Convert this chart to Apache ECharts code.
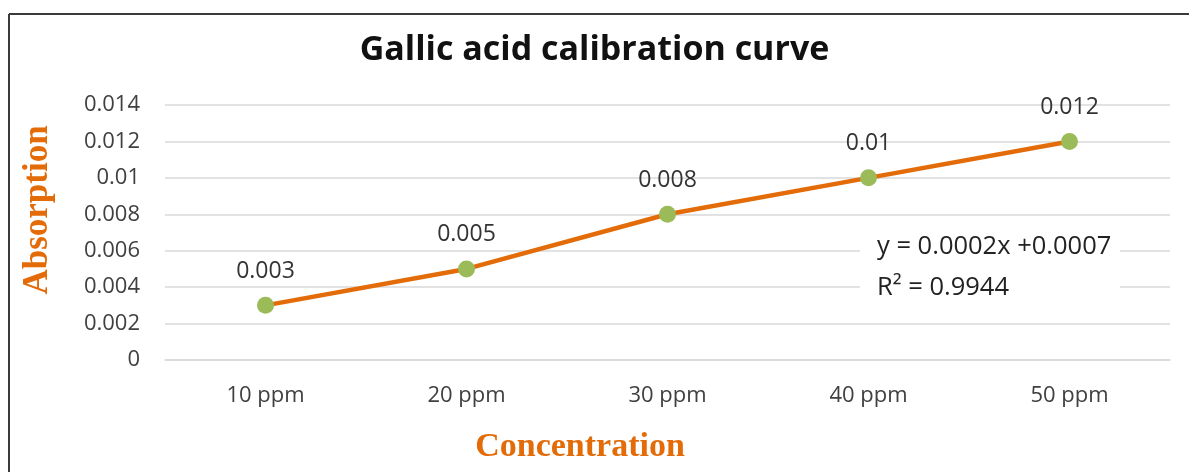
<!DOCTYPE html>
<html><head><meta charset="utf-8">
<script src="https://cdn.jsdelivr.net/npm/echarts@6/dist/echarts.min.js"></script>
<style>html,body{margin:0;padding:0;background:#fff}#c{width:1189px;height:472px}</style>
</head><body><div id="c"></div>
<script>
const categories = ['10 ppm', '20 ppm', '30 ppm', '40 ppm', '50 ppm'];
const absorption = [0.003, 0.005, 0.008, 0.01, 0.012];
const yTicks = { min: 0, max: 0.014, interval: 0.002 };
const titleText = 'Gallic acid calibration curve';
const xName = 'Concentration';
const yName = 'Absorption';
const equationLines = ['y = 0.0002x +0.0007', 'R² = 0.9944'];

const orange = '#E36C09';
const chart = echarts.init(document.getElementById('c'), null, { renderer: 'canvas' });
chart.setOption({
  animation: false,
  backgroundColor: '#fff',
  title: {
    text: titleText, left: 'center', top: 28,
    textStyle: { fontFamily: 'Open Sans', fontWeight: 'bold', fontSize: 34, color: '#111' }
  },
  grid: { left: 165, right: 19, top: 105, bottom: 112 },
  graphic: [
    { type: 'line', shape: { x1: 9, y1: 14, x2: 1189, y2: 14 }, style: { stroke: '#3a3a3a', lineWidth: 2 } },
    { type: 'line', shape: { x1: 9, y1: 14, x2: 9, y2: 472 }, style: { stroke: '#3a3a3a', lineWidth: 2 } },
    { type: 'rect', shape: { x: 860, y: 226, width: 260, height: 76 }, style: { fill: '#fff' }, z: 10 },
    { type: 'text', x: 877, y: 247, z: 11,
      style: { text: equationLines[0], fontFamily: 'Open Sans', fontSize: 25.5, verticalAlign: 'middle', fill: '#222' } },
    { type: 'text', x: 877, y: 288, z: 11,
      style: { text: equationLines[1], fontFamily: 'Open Sans', fontSize: 25.5, verticalAlign: 'middle', fill: '#222' } },
    { type: 'text', x: 38, y: 210, rotation: Math.PI / 2, z: 11,
      style: { text: yName, fontFamily: 'Liberation Serif', fontWeight: 'bold', fontSize: 35,
        align: 'center', verticalAlign: 'middle', fill: orange } },
    { type: 'text', x: 580, y: 447, z: 11,
      style: { text: xName, fontFamily: 'Liberation Serif', fontWeight: 'bold', fontSize: 34,
        align: 'center', verticalAlign: 'middle', fill: orange } }
  ],
  xAxis: {
    type: 'category', data: categories, boundaryGap: true,
    axisLine: { show: true, lineStyle: { color: '#d9d9d9', width: 1.5 } },
    axisTick: { show: false },
    axisLabel: { fontFamily: 'Open Sans', fontSize: 22, color: '#404040', margin: 25 }
  },
  yAxis: {
    type: 'value', min: yTicks.min, max: yTicks.max, interval: yTicks.interval,
    axisLine: { show: false }, axisTick: { show: false },
    splitLine: { lineStyle: { color: '#d9d9d9', width: 1.5 } },
    axisLabel: { fontFamily: 'Open Sans', fontSize: 22, color: '#404040', margin: 25,
      formatter: v => String(+v.toFixed(3)) }
  },
  series: [{
    type: 'line', data: absorption,
    symbol: 'circle', symbolSize: 17,
    lineStyle: { color: orange, width: 4.5 },
    itemStyle: { color: '#9BBB59' },
    label: { show: true, position: 'top', distance: 14, fontFamily: 'Open Sans', fontSize: 23, color: '#333',
      formatter: p => String(p.value) }
  }]
});
</script></body></html>
